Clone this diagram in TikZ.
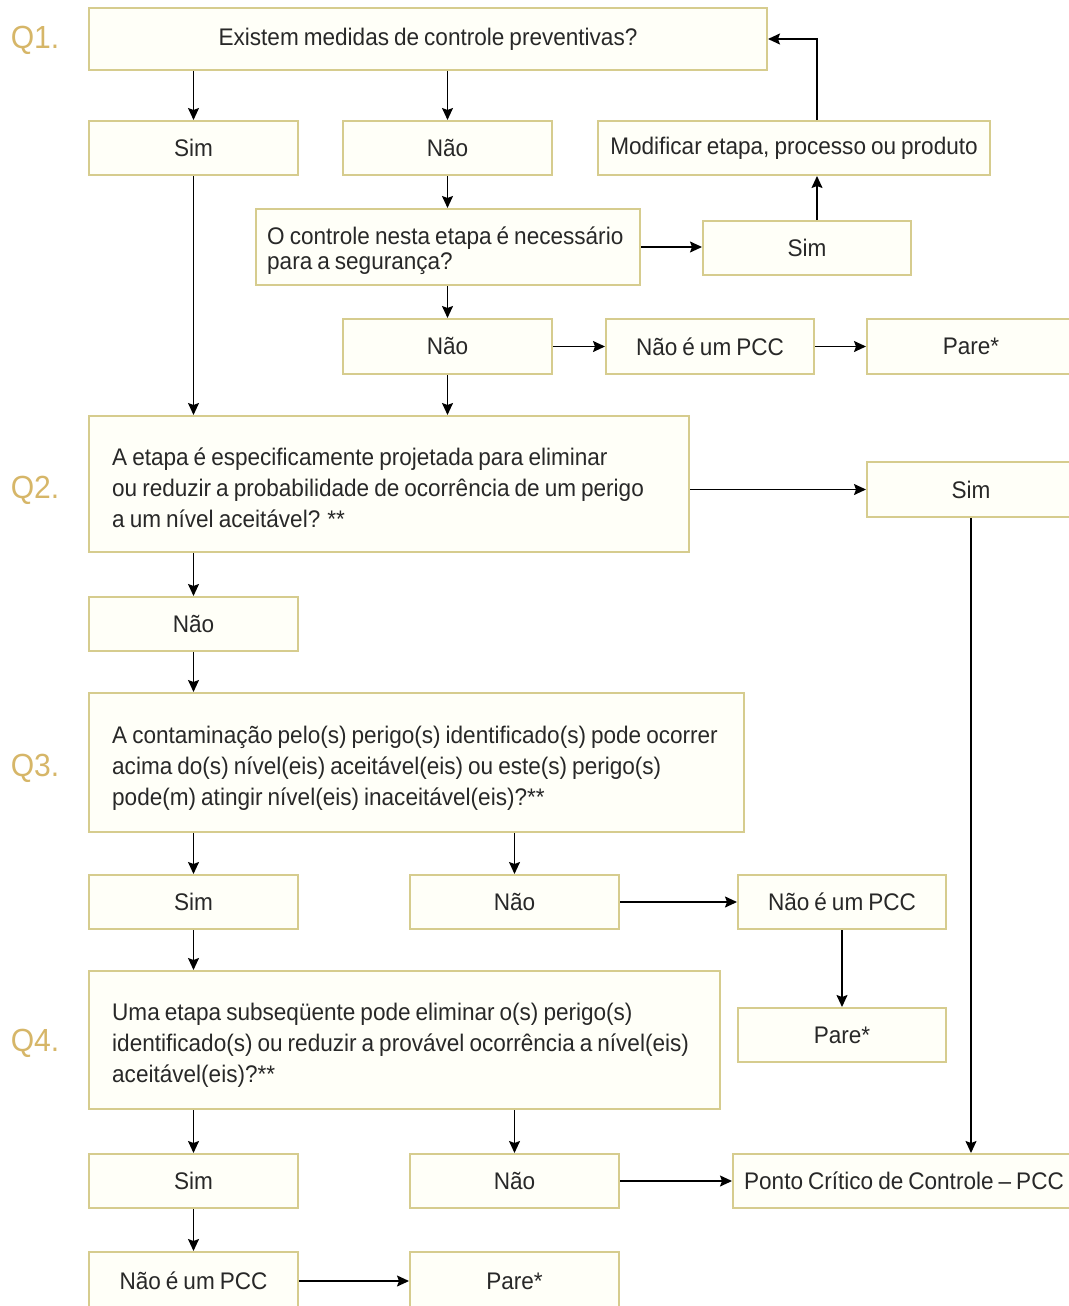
\documentclass[tikz,border=0pt]{standalone}
\usepackage{fontspec}
\setmainfont{Liberation Sans}[FakeStretch=0.94,WordSpace=0.8]
\usetikzlibrary{arrows.meta}
\definecolor{boxline}{RGB}{214,204,142}
\definecolor{boxfill}{RGB}{255,255,248}
\definecolor{qcol}{RGB}{214,182,104}
\definecolor{txt}{RGB}{40,40,40}
\tikzset{
  box/.style={draw=boxline, fill=boxfill, line width=2pt, inner sep=0pt,
    text=txt, font=\fontsize{24}{31}\selectfont},
  tx/.style={inner sep=0pt, align=left, anchor=west, text=txt, font=\fontsize{24}{31}\selectfont},
  arr/.style={draw=black, line width=1.5pt, -{Stealth[length=12pt,width=11pt,inset=2pt]}},
  qlab/.style={text=qcol, font=\fontsize{32}{32}\selectfont, inner sep=0pt}
}
\begin{document}
\begin{tikzpicture}[x=1pt,y=-1pt]
\useasboundingbox (0,0) rectangle (1068,1306);
% Q labels
\node[qlab] (l1) at (35,40) {Q1.};
\node[qlab] (l2) at (35,490) {Q2.};
\node[qlab] (l3) at (35,768) {Q3.};
\node[qlab] (l4) at (35,1043) {Q4.};
% boxes
\node[box, minimum width=678pt, minimum height=62pt] (q1) at (428,39) {Existem medidas de controle preventivas?};
\node[box, minimum width=209pt, minimum height=54pt] (sim1) at (193.5,148) {Sim};
\node[box, minimum width=209pt, minimum height=54pt] (nao1) at (447.5,148) {Não};
\node[box, minimum width=392pt, minimum height=54pt] (mod) at (794,148) {Modificar etapa, processo ou produto};
\node[box, minimum width=384pt, minimum height=76pt] (q1b) at (448,247) {};
\node[tx, font=\fontsize{24}{25}\selectfont] (q1bt) at ([xshift=12pt,yshift=-4pt]q1b.west) {O controle nesta etapa é necessário\\para a segurança?};
\node[box, minimum width=208pt, minimum height=54pt] (sim2) at (807,248) {Sim};
\node[box, minimum width=209pt, minimum height=55pt] (nao2) at (447.5,346.5) {Não};
\node[box, minimum width=208pt, minimum height=55pt] (npcc1) at (710,346.5) {Não é um PCC};
\node[box, minimum width=208pt, minimum height=55pt] (pare1) at (971,346.5) {Pare*};
\node[box, minimum width=600pt, minimum height=136pt] (q2) at (389,484) {};
\node[tx] (q2t) at ([xshift=24pt,yshift=-4pt]q2.west) {A etapa é especificamente projetada para eliminar\\ou reduzir a probabilidade de ocorrência de um perigo\\a um nível aceitável? **};
\node[box, minimum width=208pt, minimum height=55pt] (sim3) at (971,489.5) {Sim};
\node[box, minimum width=209pt, minimum height=54pt] (nao3) at (193.5,624) {Não};
\node[box, minimum width=655pt, minimum height=139pt] (q3) at (416.5,762.5) {};
\node[tx] (q3t) at ([xshift=24pt,yshift=-6pt]q3.west) {A contaminação pelo(s) perigo(s) identificado(s) pode ocorrer\\acima do(s) nível(eis) aceitável(eis) ou este(s) perigo(s)\\pode(m) atingir nível(eis) inaceitável(eis)?**};
\node[box, minimum width=209pt, minimum height=54pt] (sim4) at (193.5,902) {Sim};
\node[box, minimum width=209pt, minimum height=54pt] (nao4) at (514.5,902) {Não};
\node[box, minimum width=208pt, minimum height=54pt] (npcc2) at (842,902) {Não é um PCC};
\node[box, minimum width=208pt, minimum height=54pt] (pare2) at (842,1035) {Pare*};
\node[box, minimum width=631pt, minimum height=138pt] (q4) at (404.5,1040) {};
\node[tx] (q4t) at ([xshift=24pt,yshift=-5pt]q4.west) {Uma etapa subseqüente pode eliminar o(s) perigo(s)\\identificado(s) ou reduzir a provável ocorrência a nível(eis)\\aceitável(eis)?**};
\node[box, minimum width=209pt, minimum height=54pt] (sim5) at (193.5,1181) {Sim};
\node[box, minimum width=209pt, minimum height=54pt] (nao5) at (514.5,1181) {Não};
\node[box, minimum width=342pt, minimum height=54pt] (pcc) at (904,1181) {Ponto Crítico de Controle – PCC};
\node[box, minimum width=209pt, minimum height=58pt] (npcc3) at (193.5,1281) {Não é um PCC};
\node[box, minimum width=209pt, minimum height=58pt] (pare3) at (514.5,1281) {Pare*};
% connectors
\coordinate (mx) at (817,0);
\draw[arr] (sim1.north |- q1.south) -- (sim1.north);
\draw[arr] (nao1.north |- q1.south) -- (nao1.north);
\draw[arr] (mod.north -| mx) |- (q1.east);
\draw[arr] (sim2.north -| mx) -- (mod.south -| mx);
\draw[arr] (nao1.south) -- (nao1.south |- q1b.north);
\draw[arr] (q1b.east) -- (q1b.east -| sim2.west);
\draw[arr] (nao2.north |- q1b.south) -- (nao2.north);
\draw[arr] (nao2.east) -- (npcc1.west);
\draw[arr] (npcc1.east) -- (pare1.west);
\draw[arr] (nao2.south) -- (nao2.south |- q2.north);
\draw[arr] (sim1.south) -- (sim1.south |- q2.north);
\draw[arr] (q2.east |- sim3.west) -- (sim3.west);
\draw[arr] (nao3.north |- q2.south) -- (nao3.north);
\draw[arr] (nao3.south) -- (nao3.south |- q3.north);
\draw[arr] (sim4.north |- q3.south) -- (sim4.north);
\draw[arr] (nao4.north |- q3.south) -- (nao4.north);
\draw[arr] (nao4.east) -- (npcc2.west);
\draw[arr] (npcc2.south) -- (pare2.north);
\draw[arr] (sim4.south) -- (sim4.south |- q4.north);
\draw[arr] (sim5.north |- q4.south) -- (sim5.north);
\draw[arr] (nao5.north |- q4.south) -- (nao5.north);
\draw[arr] (nao5.east) -- (pcc.west);
\draw[arr] (sim3.south) -- (sim3.south |- pcc.north);
\draw[arr] (sim5.south) -- (npcc3.north);
\draw[arr] (npcc3.east) -- (pare3.west);
\end{tikzpicture}
\end{document}
